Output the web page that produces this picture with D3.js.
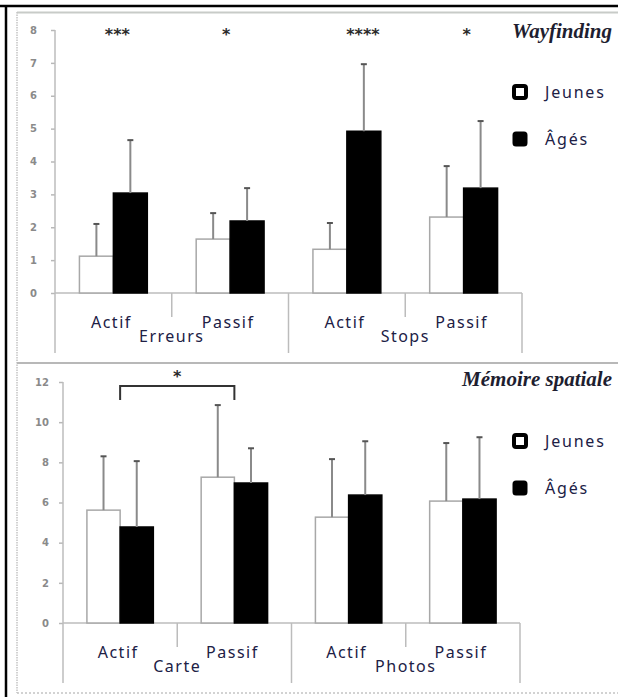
<!DOCTYPE html>
<html>
<head>
<meta charset="utf-8">
<script src="https://cdn.jsdelivr.net/npm/d3@7"></script>
<style>
    body { margin: 0; background: #fff; }
    svg { display: block; }
    .tick-label { font-family: 'DejaVu Sans', sans-serif; font-weight: bold; font-size: 10px; fill: #8a8a8a; }
    .cat-label { font-family: 'Noto Sans', sans-serif; font-size: 16px; letter-spacing: 1.5px; fill: #202045; }
    .legend-label { font-family: 'Noto Sans', sans-serif; font-size: 16px; letter-spacing: 1.8px; fill: #202045; }
    .panel-title { font-family: 'Liberation Serif', serif; font-style: italic; font-weight: bold; font-size: 21px; fill: #1e1e30; }
    .stars { font-family: 'DejaVu Sans', sans-serif; font-weight: bold; font-size: 16px; fill: #2a2a2a; }
</style>
</head>
<body>
<div id="chart"></div>
<script>
// --- data -------------------------------------------------------------
const series = ['Jeunes', 'Âgés'];
const conditions = ['Actif', 'Passif'];

const wayGroups = ['Erreurs', 'Stops'];
const wayJeunes = [1.12, 1.64, 1.33, 2.31];
const wayJeunesSd = [0.98, 0.79, 0.80, 1.55];
const wayAges = [3.04, 2.19, 4.92, 3.19];
const wayAgesSd = [1.61, 1.00, 2.04, 2.04];
const wayTicks = [0, 1, 2, 3, 4, 5, 6, 7, 8];
const wayStars = ['***', '*', '****', '*'];
const wayStarShift = [4, -4, 16, 3];

const memGroups = ['Carte', 'Photos'];
const memJeunes = [5.62, 7.26, 5.27, 6.07];
const memJeunesSd = [2.68, 3.59, 2.89, 2.89];
const memAges = [4.78, 6.97, 6.37, 6.17];
const memAgesSd = [3.28, 1.73, 2.68, 3.08];
const memTicks = [0, 2, 4, 6, 8, 10, 12];
const memBracket = {from: 0, to: 1, label: '*'};

const width = 618;
const height = 697;

const svg = d3.select('#chart')
  .append('svg')
    .attr('width', width)
    .attr('height', height);

// outer frame
svg.append('line').attr('x1', 0).attr('x2', width).attr('y1', 6).attr('y2', 6)
    .attr('stroke', '#000').attr('stroke-width', 2.5);
svg.append('line').attr('x1', 6).attr('x2', 6).attr('y1', 5).attr('y2', height)
    .attr('stroke', '#000').attr('stroke-width', 2.5);
svg.append('line').attr('x1', 17).attr('x2', width).attr('y1', 12.5).attr('y2', 12.5)
    .attr('stroke', '#c8cbc8').attr('stroke-width', 2);
svg.append('line').attr('x1', 17).attr('x2', 17).attr('y1', 12).attr('y2', 693)
    .attr('stroke', '#c4c4c4').attr('stroke-width', 1.5).attr('stroke-dasharray', '1.5,1');
svg.append('line').attr('x1', 17).attr('x2', width).attr('y1', 363).attr('y2', 363)
    .attr('stroke', '#b8b8b8').attr('stroke-width', 2);
svg.append('line').attr('x1', 17).attr('x2', width).attr('y1', 693).attr('y2', 693)
    .attr('stroke', '#c4c4c4').attr('stroke-width', 1.5).attr('stroke-dasharray', '2,2');

function toRows(jeunes, jeunesSd, ages, agesSd, groups) {
    return jeunes.map((v, i) => ({
        key: groups[Math.floor(i / 2)] + '-' + conditions[i % 2],
        group: groups[Math.floor(i / 2)],
        condition: conditions[i % 2],
        values: [
            {serie: series[0], mean: v, sd: jeunesSd[i]},
            {serie: series[1], mean: ages[i], sd: agesSd[i]}
        ]
    }));
}

function drawPanel(opts) {
    const {rows, groups, ticks, x0, x1, yTop, yBottom, labelPad, title, titleY,
        legendY, legendGap} = opts;

    const g = svg.append('g');

    const xScale = d3.scaleBand()
        .domain(rows.map(d => d.key))
        .range([x0, x1]);

    const xSub = d3.scaleBand()
        .domain(series)
        .range([0, xScale.bandwidth()])
        .paddingOuter(0.72);

    const yScale = d3.scaleLinear()
        .domain([0, d3.max(ticks)])
        .range([yBottom, yTop]);

    // y axis
    const yAxis = d3.axisLeft(yScale)
        .tickValues(ticks)
        .tickSize(4)
        .tickPadding(labelPad);
    const ay = g.append('g')
        .attr('transform', `translate(${x0},0)`)
        .call(yAxis);
    ay.select('.domain').remove();
    ay.selectAll('.tick line').attr('stroke', '#b8b8b8').attr('stroke-width', 1.5);
    ay.selectAll('.tick text').attr('class', 'tick-label');

    const axisColor = '#bcbcbc';
    // y axis line extended under the category labels
    g.append('line')
        .attr('x1', x0).attr('x2', x0)
        .attr('y1', yTop).attr('y2', yBottom + 60)
        .attr('stroke', axisColor).attr('stroke-width', 1.5);
    // x axis line
    g.append('line')
        .attr('x1', x0).attr('x2', x1)
        .attr('y1', yBottom).attr('y2', yBottom)
        .attr('stroke', axisColor).attr('stroke-width', 1.5);
    // dividers between categories
    rows.forEach((d, i) => {
        if (i === 0) return;
        const xx = xScale(d.key);
        g.append('line')
            .attr('x1', xx).attr('x2', xx)
            .attr('y1', yBottom).attr('y2', yBottom + (i % 2 ? 24 : 60))
            .attr('stroke', axisColor).attr('stroke-width', 1.5);
    });
    g.append('line')
        .attr('x1', x1).attr('x2', x1)
        .attr('y1', yBottom).attr('y2', yBottom + 60)
        .attr('stroke', axisColor).attr('stroke-width', 1.5);

    // bars
    const cats = g.selectAll('.cat')
        .data(rows)
        .enter()
      .append('g')
        .attr('class', 'cat')
        .attr('transform', d => `translate(${xScale(d.key)},0)`);

    cats.selectAll('.bar')
        .data(d => d.values)
        .enter()
      .append('rect')
        .attr('class', 'bar')
        .attr('x', d => xSub(d.serie))
        .attr('y', d => yScale(d.mean))
        .attr('width', xSub.bandwidth())
        .attr('height', d => yBottom - yScale(d.mean))
        .attr('fill', d => d.serie === series[0] ? '#fff' : '#000')
        .attr('stroke', d => d.serie === series[0] ? '#a8a8a8' : '#000')
        .attr('stroke-width', 1.5);

    // error bars (upper only)
    const err = cats.selectAll('.err')
        .data(d => d.values)
        .enter()
      .append('g')
        .attr('class', 'err');
    err.append('line')
        .attr('x1', d => xSub(d.serie) + xSub.bandwidth() / 2)
        .attr('x2', d => xSub(d.serie) + xSub.bandwidth() / 2)
        .attr('y1', d => yScale(d.mean))
        .attr('y2', d => yScale(d.mean + d.sd))
        .attr('stroke', '#8a8a8a')
        .attr('stroke-width', 2);
    err.append('line')
        .attr('x1', d => xSub(d.serie) + xSub.bandwidth() / 2 - 3)
        .attr('x2', d => xSub(d.serie) + xSub.bandwidth() / 2 + 3)
        .attr('y1', d => yScale(d.mean + d.sd))
        .attr('y2', d => yScale(d.mean + d.sd))
        .attr('stroke', '#555')
        .attr('stroke-width', 2);

    // category labels
    cats.append('text')
        .attr('class', 'cat-label')
        .attr('x', xScale.bandwidth() / 2 - 2)
        .attr('y', yBottom + 35)
        .attr('text-anchor', 'middle')
        .text(d => d.condition);

    groups.forEach((grp, i) => {
        const gx = xScale(rows[i * 2 + 1].key);
        g.append('text')
            .attr('class', 'cat-label')
            .attr('x', gx)
            .attr('y', yBottom + 49)
            .attr('text-anchor', 'middle')
            .text(grp);
    });

    // title
    g.append('text')
        .attr('class', 'panel-title')
        .attr('x', 612)
        .attr('y', titleY)
        .attr('text-anchor', 'end')
        .text(title);

    // legend
    const legend = g.selectAll('.legend')
        .data(series)
        .enter()
      .append('g')
        .attr('class', 'legend')
        .attr('transform', (d, i) => `translate(512,${legendY + i * legendGap})`);
    legend.append('rect')
        .attr('x', 2).attr('y', -6)
        .attr('width', 12).attr('height', 12)
        .attr('rx', 2)
        .attr('fill', (d, i) => i === 0 ? '#fff' : '#000')
        .attr('stroke', '#000')
        .attr('stroke-width', (d, i) => i === 0 ? 4 : 3);
    legend.append('text')
        .attr('class', 'legend-label')
        .attr('x', 33)
        .attr('y', 6)
        .text(d => d);

    return {g, xScale, xSub, yScale};
}

// --- Wayfinding -------------------------------------------------------
const wayPanel = drawPanel({
    rows: toRows(wayJeunes, wayJeunesSd, wayAges, wayAgesSd, wayGroups),
    groups: wayGroups,
    ticks: wayTicks,
    x0: 55, x1: 522,
    yTop: 30, yBottom: 293,
    labelPad: 14,
    title: 'Wayfinding',
    titleY: 38,
    legendY: 92,
    legendGap: 47
});

wayPanel.g.selectAll('.stars')
    .data(wayStars)
    .enter()
  .append('text')
    .attr('class', 'stars')
    .attr('x', (d, i) => wayPanel.xScale(wayPanel.xScale.domain()[i]) + wayPanel.xScale.bandwidth() / 2 + wayStarShift[i])
    .attr('y', 40)
    .attr('text-anchor', 'middle')
    .text(d => d);

// --- Mémoire spatiale -------------------------------------------------
const memPanel = drawPanel({
    rows: toRows(memJeunes, memJeunesSd, memAges, memAgesSd, memGroups),
    groups: memGroups,
    ticks: memTicks,
    x0: 63, x1: 520,
    yTop: 382, yBottom: 623,
    labelPad: 10,
    title: 'Mémoire spatiale',
    titleY: 386,
    legendY: 441,
    legendGap: 47
});

// significance bracket between Carte Actif and Carte Passif
const bKeys = memPanel.xScale.domain();
const bx1 = memPanel.xScale(bKeys[memBracket.from]) + memPanel.xSub(series[1]);
const bx2 = memPanel.xScale(bKeys[memBracket.to]) + memPanel.xSub(series[0]) + memPanel.xSub.bandwidth();
const bTop = memPanel.yScale(11.8);
memPanel.g.append('path')
    .attr('d', `M${bx1},${bTop + 14}V${bTop}H${bx2}V${bTop + 14}`)
    .attr('fill', 'none')
    .attr('stroke', '#333')
    .attr('stroke-width', 2);
memPanel.g.append('text')
    .attr('class', 'stars')
    .attr('x', (bx1 + bx2) / 2)
    .attr('y', bTop - 4)
    .attr('text-anchor', 'middle')
    .text(memBracket.label);
</script>
</body>
</html>
